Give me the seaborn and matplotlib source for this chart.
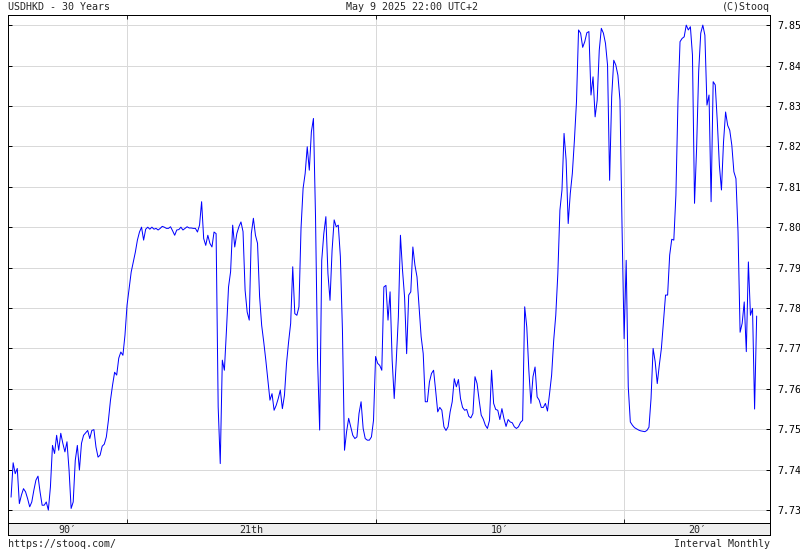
import numpy as np
import pandas as pd
import matplotlib
matplotlib.use("Agg")
import matplotlib.pyplot as plt
import seaborn as sns

# Monthly USDHKD closes (May 1995 .. May 2025)
rates_1995_99 = [7.7332, 7.7417, 7.7390, 7.7403, 7.7316, 7.7337, 7.7353, 7.7345,
                 7.7328, 7.7308, 7.7320, 7.7349, 7.7374, 7.7384, 7.7345, 7.7312, 7.7312, 7.7320, 7.7300, 7.7357,
                 7.7460, 7.7440, 7.7485, 7.7448, 7.7490, 7.7465, 7.7444, 7.7469, 7.7399, 7.7304, 7.7320, 7.7423,
                 7.7460, 7.7399, 7.7465, 7.7485, 7.7491, 7.7497, 7.7477, 7.7497, 7.7499, 7.7456, 7.7431, 7.7436,
                 7.7458, 7.7463, 7.7481, 7.7522, 7.7572, 7.7609, 7.7641, 7.7634, 7.7676, 7.7691, 7.7683, 7.7733]
rates_2000_04 = [7.7807, 7.7849, 7.7889, 7.7913, 7.7938, 7.7968, 7.7988, 7.8000, 7.7968, 7.7995, 7.8000, 7.7995,
                 7.8000, 7.7995, 7.7997, 7.7993, 7.7997, 7.8002, 7.8000, 7.7997, 7.7997, 7.8001, 7.7991, 7.7980,
                 7.7993, 7.7994, 7.8000, 7.7993, 7.7997, 7.8001, 7.7998, 7.7998, 7.7997, 7.7997, 7.7988, 7.8005,
                 7.8063, 7.7972, 7.7955, 7.7980, 7.7960, 7.7951, 7.7988, 7.7984, 7.7555, 7.7415, 7.7671, 7.7646,
                 7.7745, 7.7852, 7.7890, 7.8005, 7.7951, 7.7984, 7.8001, 7.8013, 7.7989, 7.7844, 7.7790, 7.7770]
rates_2005_09 = [7.7984, 7.8022, 7.7980, 7.7960, 7.7828, 7.7757, 7.7716, 7.7671, 7.7621, 7.7572, 7.7588, 7.7547,
                 7.7559, 7.7576, 7.7597, 7.7551, 7.7584, 7.7663, 7.7716, 7.7762, 7.7902, 7.7786, 7.7782, 7.7803,
                 7.7997, 7.8096, 7.8133, 7.8199, 7.8141, 7.8236, 7.8269, 7.8026, 7.7671, 7.7498, 7.7918, 7.7984,
                 7.8026, 7.7885, 7.7819, 7.7943, 7.8018, 7.8001, 7.8005, 7.7927, 7.7745, 7.7448, 7.7494, 7.7527,
                 7.7506, 7.7485, 7.7477, 7.7481, 7.7539, 7.7568, 7.7502, 7.7477, 7.7473, 7.7473, 7.7481, 7.7522]
rates_2010_14 = [7.7680, 7.7663, 7.7658, 7.7646, 7.7852, 7.7856, 7.7770, 7.7840, 7.7671, 7.7576, 7.7671, 7.7778,
                 7.7980, 7.7894, 7.7827, 7.7687, 7.7832, 7.7840, 7.7951, 7.7906, 7.7877, 7.7803, 7.7729, 7.7687,
                 7.7568, 7.7568, 7.7617, 7.7638, 7.7646, 7.7596, 7.7543, 7.7554, 7.7547, 7.7506, 7.7497, 7.7506,
                 7.7543, 7.7568, 7.7625, 7.7605, 7.7623, 7.7576, 7.7554, 7.7547, 7.7549, 7.7532, 7.7528, 7.7539,
                 7.7630, 7.7613, 7.7572, 7.7535, 7.7525, 7.7510, 7.7502, 7.7522, 7.7646, 7.7564, 7.7549, 7.7547]
rates_2015_19 = [7.7524, 7.7551, 7.7526, 7.7507, 7.7524, 7.7518, 7.7516, 7.7506, 7.7502, 7.7506, 7.7517, 7.7522,
                 7.7803, 7.7753, 7.7646, 7.7564, 7.7630, 7.7654, 7.7580, 7.7572, 7.7554, 7.7554, 7.7564, 7.7545,
                 7.7588, 7.7634, 7.7720, 7.7782, 7.7885, 7.8042, 7.8092, 7.8232, 7.8166, 7.8009, 7.8083, 7.8133,
                 7.8215, 7.8310, 7.8488, 7.8480, 7.8445, 7.8459, 7.8481, 7.8484, 7.8327, 7.8372, 7.8273, 7.8314,
                 7.8438, 7.8492, 7.8480, 7.8455, 7.8401, 7.8116, 7.8323, 7.8413, 7.8401, 7.8376, 7.8314, 7.8001]
rates_2020_25 = [7.7724, 7.7918, 7.7605, 7.7518, 7.7510, 7.7504, 7.7501, 7.7498, 7.7496, 7.7495, 7.7494, 7.7497,
                 7.7505, 7.7576, 7.7700, 7.7667, 7.7613, 7.7659, 7.7700, 7.7766, 7.7832, 7.7832, 7.7931, 7.7970,
                 7.7968, 7.8079, 7.8310, 7.8459, 7.8467, 7.8471, 7.8500, 7.8488, 7.8496, 7.8426, 7.8059, 7.8195,
                 7.8385, 7.8480, 7.8500, 7.8475, 7.8302, 7.8327, 7.8063, 7.8360, 7.8352, 7.8261, 7.8153, 7.8092,
                 7.8211, 7.8285, 7.8252, 7.8240, 7.8203, 7.8137, 7.8120, 7.7988, 7.7740, 7.7762, 7.7815, 7.7692,
                 7.7914, 7.7782, 7.7799, 7.7550, 7.7780]

y_ticks = [7.73, 7.74, 7.75, 7.76, 7.77, 7.78, 7.79, 7.80, 7.81, 7.82, 7.83, 7.84, 7.85]
decade_starts = [2000, 2010, 2020]
decade_labels = ["90′", "21th", "10′", "20′"]

rates = rates_1995_99 + rates_2000_04 + rates_2005_09 + rates_2010_14 + rates_2015_19 + rates_2020_25
dates = pd.date_range("1995-05-01", periods=len(rates), freq="MS")
df = pd.DataFrame({"year": dates.year + (dates.month - 1) / 12, "close": rates})

sns.set_style("white")
plt.rcParams["font.family"] = ["DejaVu Sans Mono"]
plt.rcParams["font.size"] = 7.2

W, H = 800, 550
PX = 0.72  # one pixel in points at 100 dpi
fig = plt.figure(figsize=(8, 5.5), dpi=100)
ax = fig.add_axes([8 / W, 1 - 523 / H, 762 / W, 508 / H])
band = fig.add_axes([8 / W, 1 - 535 / H, 762 / W, 12 / H])

x0, x1 = 1995.21, 2025.87

for yv in y_ticks:
    ax.axhline(yv, color="#d9d9d9", lw=PX, zorder=0, antialiased=False)
for xv in decade_starts:
    ax.axvline(xv, color="#d9d9d9", lw=PX, zorder=0, antialiased=False)

sns.lineplot(data=df, x="year", y="close", ax=ax, color="#0000ff", lw=PX)

ax.set_xlim(x0, x1)
ax.set_ylim(7.7268, 7.8525)
ax.set_xlabel("")
ax.set_ylabel("")
ax.set_yticks(y_ticks)
ax.set_yticklabels([f"{v:.2f}" for v in y_ticks])
ax.set_xticks(decade_starts)
ax.tick_params(axis="y", direction="in", left=True, right=True, labelleft=False,
               labelright=True, length=3, width=PX, pad=5, labelsize=7.2, colors="black")
ax.tick_params(axis="x", direction="in", top=True, bottom=True, labelbottom=False,
               length=3, width=PX)
for s in ax.spines.values():
    s.set_color("black")
    s.set_linewidth(PX)

band.set_facecolor("#eeeeee")
band.set_xlim(x0, x1)
band.set_ylim(0, 1)
band.set_xticks([])
band.set_yticks([])
for s in band.spines.values():
    s.set_color("black")
    s.set_linewidth(PX)
bounds = [x0] + decade_starts + [x1]
for i, lab in enumerate(decade_labels):
    band.text((bounds[i] + bounds[i + 1]) / 2, 0.45, lab, ha="center", va="center", fontsize=7.2)

fig.text(8 / W, 1 - 7 / H, "USDHKD - 30 Years", ha="left", va="center")
fig.text(412 / W, 1 - 7 / H, "May 9 2025 22:00 UTC+2", ha="center", va="center")
fig.text(770 / W, 1 - 7 / H, "(C)Stooq", ha="right", va="center")
fig.text(8 / W, 1 - 544 / H, "https://stooq.com/", ha="left", va="center")
fig.text(770 / W, 1 - 544 / H, "Interval Monthly", ha="right", va="center")

fig.savefig("out.png", dpi=100, facecolor="white")
